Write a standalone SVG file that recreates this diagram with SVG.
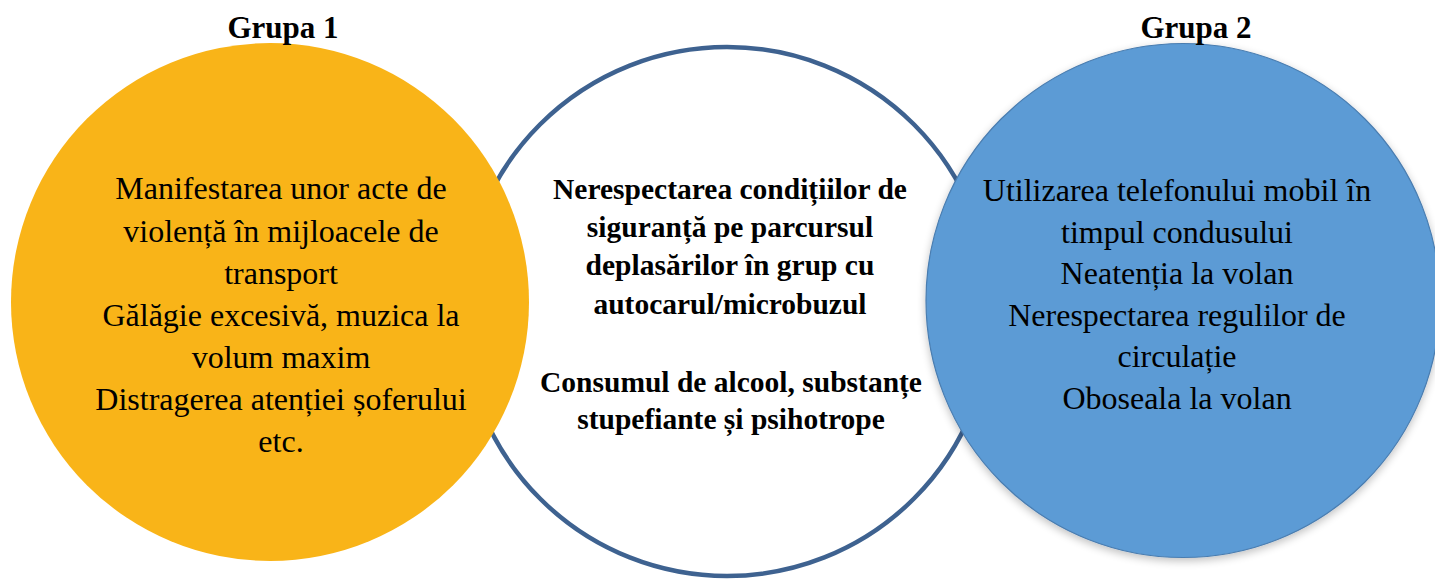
<svg xmlns="http://www.w3.org/2000/svg" width="1435" height="580" viewBox="0 0 1435 580">
  <defs>
    <filter id="shadow" x="-10%" y="-10%" width="120%" height="125%">
      <feGaussianBlur in="SourceAlpha" stdDeviation="4"/>
      <feOffset dx="0" dy="3" result="b"/>
      <feComponentTransfer><feFuncA type="linear" slope="0.25"/></feComponentTransfer>
      <feMerge><feMergeNode/><feMergeNode in="SourceGraphic"/></feMerge>
    </filter>
  </defs>
  <style>
    text { font-family: "Liberation Serif", "Times New Roman", serif; fill: #000; text-anchor: middle; }
    .title { font-size: 31px; font-weight: bold; }
    .reg { font-size: 32px; }
    .bold { font-size: 29.5px; font-weight: bold; }
  </style>
  <rect width="1435" height="580" fill="#ffffff"/>
  <g id="center">
    <circle cx="727" cy="311.5" r="264.5" fill="#ffffff" stroke="#3E6290" stroke-width="4.5"/>
    <text class="bold" x="730" y="199">Nerespectarea condițiilor de</text>
    <text class="bold" x="730" y="237">siguranță pe parcursul</text>
    <text class="bold" x="730" y="275">deplasărilor în grup cu</text>
    <text class="bold" x="730" y="314">autocarul/microbuzul</text>
    <text class="bold" x="731" y="392">Consumul de alcool, substanțe</text>
    <text class="bold" x="731" y="429">stupefiante și psihotrope</text>
  </g>
  <g id="grupa1">
    <circle cx="270" cy="302" r="259" fill="#F9B418"/>
    <text class="title" x="283" y="38">Grupa 1</text>
    <text class="reg" x="281" y="199">Manifestarea unor acte de</text>
    <text class="reg" x="281" y="241.5">violență în mijloacele de</text>
    <text class="reg" x="281" y="284">transport</text>
    <text class="reg" x="281" y="326">Gălăgie excesivă, muzica la</text>
    <text class="reg" x="281" y="368">volum maxim</text>
    <text class="reg" x="281" y="410">Distragerea atenției șoferului</text>
    <text class="reg" x="281" y="452">etc.</text>
  </g>
  <g id="grupa2">
    <circle cx="1183" cy="300.5" r="257" fill="#5B9BD5" stroke="#4A7DB0" stroke-width="1.2" filter="url(#shadow)"/>
    <text class="title" x="1196" y="38">Grupa 2</text>
    <text class="reg" x="1177" y="201">Utilizarea telefonului mobil în</text>
    <text class="reg" x="1177" y="242.5">timpul condusului</text>
    <text class="reg" x="1177" y="284">Neatenția la volan</text>
    <text class="reg" x="1177" y="325.5">Nerespectarea regulilor de</text>
    <text class="reg" x="1177" y="367">circulație</text>
    <text class="reg" x="1177" y="408.5">Oboseala la volan</text>
  </g>
  <g id="connectors"/>
</svg>
